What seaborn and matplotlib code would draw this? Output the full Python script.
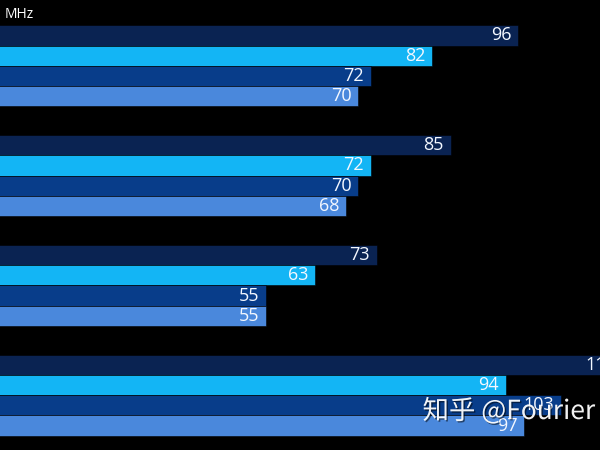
import matplotlib
matplotlib.use("Agg")
import matplotlib.pyplot as plt
import matplotlib.patheffects as pe
import seaborn as sns
import pandas as pd

groups = ["G1", "G2", "G3", "G4"]
series = ["S1", "S2", "S3", "S4"]
values = {
    "S1": [96, 85, 73, 113],
    "S2": [82, 72, 63, 94],
    "S3": [72, 70, 55, 103],
    "S4": [70, 68, 55, 97],
}
colors = ["#0a2352", "#13b5f5", "#083d8a", "#4a88dc"]
unit_label = "MHz"
watermark = "知乎 @Fourier"

rows = []
for s in series:
    for g, v in zip(groups, values[s]):
        rows.append({"group": g, "series": s, "value": v})
df = pd.DataFrame(rows)

sns.set_style("dark")
plt.rcParams["font.family"] = ["Open Sans", "Noto Sans CJK SC", "DejaVu Sans"]

fig = plt.figure(figsize=(6, 4.5), dpi=100, facecolor="black")
ax = fig.add_axes([0, 0, 1, 1])
ax.set_facecolor("black")

sns.barplot(data=df, y="group", x="value", hue="series", order=groups,
            hue_order=series, palette=colors, orient="h", width=0.74,
            dodge=True, ax=ax, legend=False, saturation=1,
            edgecolor="black", linewidth=0.4)

ax.set_xlim(11.7, 109.3)
ax.set_ylim(3.5, -0.6)
ax.set_xlabel("")
ax.set_ylabel("")
ax.set_xticks([])
ax.set_yticks([])
for sp in ax.spines.values():
    sp.set_visible(False)
ax.grid(False)

for cont in ax.containers:
    texts = ax.bar_label(cont, labels=[f"{int(v)}" for v in cont.datavalues],
                         padding=-5, color="#f4f8ff", fontsize=13)
    for t in texts:
        t.set_horizontalalignment("right")
        t.set_verticalalignment("center")
        t.set_clip_on(False)
        t.set_annotation_clip(False)

fig.text(0.008, 0.968, unit_label, color="white", fontsize=10,
         ha="left", va="center")
fig.text(0.992, 0.086, watermark, color="white", fontsize=19,
         ha="right", va="center", alpha=0.95,
         family=["Noto Sans CJK SC", "DejaVu Sans"],
         path_effects=[pe.withSimplePatchShadow(offset=(1, -1),
                                                shadow_rgbFace="black",
                                                alpha=0.5)])

fig.savefig("out.png", dpi=100, facecolor="black")
